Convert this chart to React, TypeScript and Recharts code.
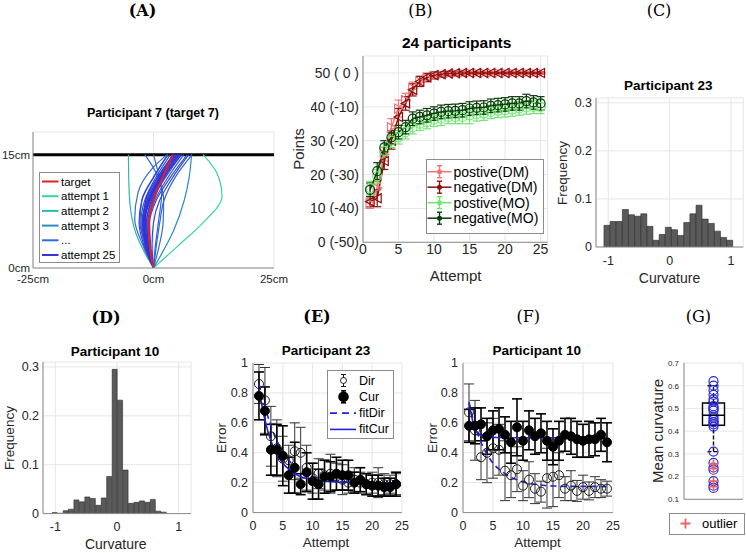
import React from 'react';
import {
  ComposedChart, BarChart, Line, Bar, Scatter, XAxis, YAxis,
  CartesianGrid, ErrorBar, ReferenceLine,
} from 'recharts';

const FONT = '"Liberation Sans", Arial, Helvetica, sans-serif';
const SERIF = '"DejaVu Serif", "Liberation Serif", serif';
const INK = '#262626';
const EDGE = '#8c8c8c';
const GRIDC = '#e6e6e6';

// ---------------- Panel A ----------------
const aXTicks = [-25, 0, 25];
const aYTicks = [0, 15];
const aXDomain = [-25, 25];
const aYDomain = [0, 18];
const aTargetDistance = 15;
const aTarget: number[][] = [[0, 0], [-0.8, 3], [-1.0, 6], [0, 9], [1.9, 12], [4, 15]];
const aAttempts: number[][][] = [
  [[0, 0], [5.2, 3], [10.3, 6], [14.2, 9.5], [13.2, 12.5], [10.3, 15]],
  [[0, 0], [-1.8, 2], [-3.6, 4.5], [-4.7, 7.5], [-5.1, 11], [-5.2, 15]],
  [[0, 0], [1.8, 2], [4.2, 5], [6.4, 9], [7.4, 12], [7.9, 15]],
  [[0, 0], [1.2, 3], [2.0, 6], [2.1, 9], [1.2, 12], [0, 15]],
  [[0, 0], [-2.2, 3], [-3.9, 6.5], [-3.2, 10], [-0.5, 13], [2.8, 15]],
  [[0, 0], [0.4, 3], [1.0, 6], [1.7, 10], [0.2, 13], [-1.8, 15]],
  [[0, 0], [-1.5, 3], [-2.8, 6], [-2.4, 9], [0, 12], [3, 15]],
  [[0, 0], [0.6, 3], [1.3, 6], [2.2, 9], [4.5, 12], [8, 15]],
  [[0, 0], [-1.2, 3], [-1.8, 6], [-0.8, 9], [1.8, 12], [5, 15]],
  [[0, 0], [-0.8, 3], [-1.0, 6], [0.3, 9], [3, 12], [6.3, 15]],
  [[0, 0], [-1.5, 3], [-2.3, 6], [-1.5, 9], [1, 12], [4, 15]],
  [[0, 0], [-1.0, 3], [-1.5, 6], [-0.2, 9], [2.5, 12], [5.8, 15]],
  [[0, 0], [-1.8, 3], [-2.6, 6], [-1.8, 9], [0.5, 12], [3.5, 15]],
  [[0, 0], [-1.4, 3], [-2.0, 6], [-1.0, 9], [1.5, 12], [4.6, 15]],
  [[0, 0], [-0.6, 3], [-0.8, 6], [0.6, 9], [3.5, 12], [7, 15]],
  [[0, 0], [-1.6, 3], [-2.4, 6], [-1.2, 9], [1.2, 12], [4.3, 15]],
  [[0, 0], [-0.3, 3], [0, 6], [1.3, 9], [4, 12], [7.3, 15]],
  [[0, 0], [-2.0, 3], [-3.0, 6], [-2.4, 9], [0, 12], [3, 15]],
  [[0, 0], [-1.0, 3], [-1.2, 6], [0, 9], [2.2, 12], [5.3, 15]],
  [[0, 0], [-1.3, 3], [-1.9, 6], [-0.6, 9], [2, 12], [5.5, 15]],
  [[0, 0], [-1.7, 3], [-2.2, 6], [-1.3, 9], [1.3, 12], [4.8, 15]],
  [[0, 0], [-0.9, 3], [-1.4, 6], [-0.4, 9], [2.2, 12], [5.8, 15]],
  [[0, 0], [-1.2, 3], [-2.1, 6], [-1.6, 9], [0.8, 12], [4.2, 15]],
  [[0, 0], [-1.5, 3], [-2.0, 6], [-0.9, 9], [1.7, 12], [5.1, 15]],
  [[0, 0], [-1.1, 3], [-1.7, 6], [-0.9, 9], [1.4, 12], [4.5, 15]],
];
const aLegendLabels = ['target', 'attempt 1', 'attempt 2', 'attempt 3', '...', 'attempt 25'];
const aLegendColors = ['#e0202a', '#33d6a6', '#2cb9ab', '#2a8cc4', '#2f6ed6', '#3535d8'];

// ---------------- Panel B ----------------
const bXTicks = [0, 5, 10, 15, 20, 25];
const bYTicks = [0, 10, 20, 30, 40, 50];
const bYTickLabels = ['0 (-50)', '10 (-40)', '20 (-30)', '30 (-20)', '40 (-10)', '50 ( 0 )'];
const bAttempts = [1, 2, 3, 4, 5, 6, 7, 8, 9, 10, 11, 12, 13, 14, 15, 16, 17, 18, 19, 20, 21, 22, 23, 24, 25];
const bPosDM = [11.5, 16, 26, 34, 39.5, 42, 45.5, 47.5, 48.5, 49.2, 49.5, 49.7, 49.8, 49.9, 50, 50, 50, 50, 50, 50, 50, 50, 50, 50, 50];
const bPosDMErr = [1.5, 2, 2, 2.5, 2.5, 2, 1.8, 1.5, 1.2, 1, 0.8, 0.6, 0.5, 0.5, 0.4, 0.4, 0.3, 0.3, 0.3, 0.3, 0.3, 0.3, 0.3, 0.3, 0.3];
const bNegDM = [12, 13, 24, 30, 37, 41, 45, 47.5, 48.7, 49.3, 49.6, 49.8, 49.9, 50, 50, 50, 50, 50, 50, 50, 50, 50, 50, 50, 50];
const bNegDMErr = [1.5, 2.5, 2.5, 2.5, 2.5, 2, 1.8, 1.5, 1.2, 1, 0.8, 0.6, 0.5, 0.5, 0.4, 0.4, 0.3, 0.3, 0.3, 0.3, 0.3, 0.3, 0.3, 0.3, 0.3];
const bPosMO = [16, 19.5, 27, 30, 31, 32.5, 34, 35, 35.5, 36.2, 36.5, 37, 37, 37, 37.5, 37.8, 38, 38.5, 38.8, 39, 39.2, 39.5, 39.8, 40, 40];
const bPosMOErr = [2, 2, 2, 2, 2, 2, 2, 2, 2, 2, 2, 2, 2, 2, 2.5, 2, 2, 2, 2, 2, 2, 2, 2, 2, 2];
const bNegMO = [15.5, 21, 28, 31, 32.5, 34, 36.5, 37, 37.5, 38, 38.5, 38.7, 38.8, 39, 39.5, 39.7, 39.8, 40.3, 40.5, 40.7, 41, 41, 41.7, 41.3, 41];
const bNegMOErr = [2, 2.5, 2, 2, 2, 2, 2, 2, 2, 2, 2, 2, 2, 2, 2, 2, 2, 2, 2, 2, 2, 2, 2, 2, 2];
const bLegendLabels = ['postive(DM)', 'negative(DM)', 'postive(MO)', 'negative(MO)'];
const bColors = ['#f07575', '#8b1111', '#6fe86f', '#0a3d0a'];

// ---------------- Panels C / D ----------------
const histXTicks = [-1, 0, 1];
const histYTicks = [0, 0.1, 0.2, 0.3];
const cCenters = [-1.02, -0.92, -0.82, -0.72, -0.62, -0.52, -0.42, -0.32, -0.22, -0.12, -0.02, 0.08, 0.18, 0.28, 0.38, 0.48, 0.58, 0.68, 0.78, 0.88, 0.98];
const cFreq = [0.045, 0.053, 0.053, 0.078, 0.067, 0.064, 0.069, 0.043, 0.014, 0.026, 0.041, 0.036, 0.024, 0.051, 0.069, 0.087, 0.058, 0.049, 0.033, 0.020, 0.014];
const dCenters = [-1.01, -0.92, -0.83, -0.745, -0.656, -0.567, -0.479, -0.39, -0.302, -0.213, -0.125, -0.036, 0.052, 0.141, 0.229, 0.318, 0.406, 0.495, 0.583, 0.672, 0.76];
const dFreq = [0.002, 0.0007, 0.006, 0.009, 0.028, 0.024, 0.034, 0.031, 0.017, 0.032, 0.076, 0.295, 0.232, 0.089, 0.021, 0.023, 0.026, 0.023, 0.029, 0.005, 0.003];

// ---------------- Panels E / F ----------------
const errXTicks = [0, 5, 10, 15, 20, 25];
const errYTicks = [0, 0.2, 0.4, 0.6, 0.8, 1];
const attempts24 = [1, 2, 3, 4, 5, 6, 7, 8, 9, 10, 11, 12, 13, 14, 15, 16, 17, 18, 19, 20, 21, 22, 23, 24];
const eDir = [0.86, 0.75, 0.51, 0.43, 0.36, 0.35, 0.41, 0.40, 0.30, 0.23, 0.26, 0.25, 0.26, 0.24, 0.22, 0.20, 0.22, 0.20, 0.19, 0.20, 0.20, 0.19, 0.19, 0.19];
const eDirErr = [0.13, 0.22, 0.2, 0.19, 0.15, 0.1, 0.19, 0.17, 0.15, 0.1, 0.1, 0.1, 0.13, 0.09, 0.1, 0.07, 0.08, 0.07, 0.07, 0.07, 0.1, 0.07, 0.06, 0.07];
const eCur = [0.78, 0.68, 0.42, 0.42, 0.38, 0.25, 0.30, 0.19, 0.27, 0.21, 0.19, 0.24, 0.24, 0.26, 0.25, 0.25, 0.20, 0.22, 0.19, 0.18, 0.18, 0.17, 0.17, 0.19];
const eCurErr = [0.16, 0.16, 0.17, 0.17, 0.2, 0.12, 0.17, 0.07, 0.13, 0.12, 0.1, 0.11, 0.1, 0.11, 0.1, 0.1, 0.07, 0.08, 0.07, 0.07, 0.07, 0.06, 0.06, 0.08];
const eFitDir = [0.86, 0.71, 0.58, 0.48, 0.41, 0.35, 0.31, 0.28, 0.255, 0.24, 0.228, 0.22, 0.214, 0.21, 0.207, 0.205, 0.203, 0.202, 0.201, 0.2, 0.2, 0.2, 0.2, 0.2];
const eFitCur = [0.82, 0.62, 0.48, 0.39, 0.33, 0.29, 0.26, 0.24, 0.228, 0.22, 0.214, 0.21, 0.207, 0.205, 0.203, 0.202, 0.201, 0.2, 0.2, 0.2, 0.2, 0.2, 0.2, 0.2];
const fDir = [0.67, 0.55, 0.37, 0.40, 0.43, 0.42, 0.28, 0.25, 0.29, 0.18, 0.22, 0.16, 0.14, 0.23, 0.24, 0.25, 0.16, 0.18, 0.145, 0.17, 0.145, 0.17, 0.16, 0.16];
const fDirErr = [0.19, 0.2, 0.15, 0.2, 0.2, 0.17, 0.2, 0.15, 0.15, 0.1, 0.12, 0.1, 0.07, 0.2, 0.2, 0.15, 0.08, 0.1, 0.07, 0.08, 0.06, 0.07, 0.06, 0.05];
const fCur = [0.58, 0.58, 0.59, 0.51, 0.55, 0.56, 0.52, 0.47, 0.57, 0.48, 0.55, 0.51, 0.53, 0.48, 0.44, 0.48, 0.52, 0.51, 0.49, 0.48, 0.49, 0.49, 0.52, 0.47];
const fCurErr = [0.11, 0.12, 0.11, 0.12, 0.13, 0.14, 0.12, 0.14, 0.19, 0.13, 0.13, 0.12, 0.13, 0.13, 0.12, 0.13, 0.11, 0.12, 0.12, 0.11, 0.12, 0.11, 0.11, 0.13];
const fFitDir = [0.74, 0.58, 0.47, 0.39, 0.33, 0.29, 0.26, 0.235, 0.22, 0.205, 0.195, 0.19, 0.185, 0.18, 0.178, 0.176, 0.175, 0.175, 0.175, 0.175, 0.175, 0.175, 0.175, 0.175];
const fFitCur = [0.73, 0.56, 0.515, 0.505, 0.503, 0.502, 0.501, 0.5, 0.5, 0.5, 0.5, 0.5, 0.5, 0.5, 0.5, 0.5, 0.5, 0.5, 0.5, 0.5, 0.5, 0.5, 0.5, 0.5];
const errLegendLabels = ['Dir', 'Cur', 'fitDir', 'fitCur'];

// ---------------- Panel G ----------------
const gYTicks = [0.1, 0.2, 0.3, 0.4, 0.5, 0.6, 0.7];
const gPos = 1;
const gQ1 = 0.426;
const gMedian = 0.47;
const gQ3 = 0.524;
const gWhiskerLow = 0.31;
const gWhiskerHigh = 0.6;
const gMeans = [0.62, 0.60, 0.58, 0.56, 0.54, 0.53, 0.51, 0.50, 0.50, 0.49, 0.47, 0.46, 0.45, 0.44, 0.44, 0.43, 0.42, 0.31, 0.26, 0.24, 0.23, 0.18, 0.16, 0.15];
const gOutliers = [0.255, 0.235, 0.18, 0.155];

// ---------------- helpers ----------------
const BLUE = '#2222d8';
const pts = (pairs: number[][]) => pairs.map(([x, y]) => ({ x, y }));
const series = (xs: number[], ys: number[], es?: number[]) => xs.map((x, i) => ({ x, y: ys[i], e: es ? es[i] : 0 }));

function attemptColor(i: number) {
  const fixed = [[51, 214, 166], [44, 185, 171], [42, 140, 196]];
  if (i < 3) return `rgb(${fixed[i].join(',')})`;
  const a = [47, 110, 214], b = [50, 45, 216];
  const t = (i - 3) / 21;
  const c = a.map((v, k) => Math.round(v + (b[k] - v) * t));
  return `rgb(${c.join(',')})`;
}

type Box = { L: number; T: number; R: number; B: number };
function geom(b: Box, padL: number, padT: number, padR: number, padB: number) {
  return {
    left: b.L - padL,
    top: b.T - padT,
    width: b.R - b.L + padL + padR,
    height: b.B - b.T + padT + padB,
    margin: { top: padT, right: padR, bottom: 0, left: 0 },
    yw: padL,
    xh: padB,
  };
}

const tickStyle = (size: number) => ({ fill: INK, fontSize: size, fontFamily: FONT });

const boxAxes = (xd: number[], yd: number[]) => [
  <XAxis key="bt" xAxisId="top" orientation="top" type="number" domain={xd} allowDataOverflow tick={false} tickLine={false} height={0} axisLine={{ stroke: EDGE }} />,
  <YAxis key="br" yAxisId="right" orientation="right" type="number" domain={yd} allowDataOverflow tick={false} tickLine={false} width={0} axisLine={{ stroke: EDGE }} />,
];

function Txt(props: { x: number; y: number; size: number; bold?: boolean; rot?: boolean; family?: string; color?: string; children: React.ReactNode }) {
  const { x, y, size, bold, rot, family, color, children } = props;
  return (
    <div style={{
      position: 'absolute', left: x, top: y,
      transform: `translate(-50%,-50%)${rot ? ' rotate(-90deg)' : ''}`,
      fontSize: size, fontWeight: bold ? 700 : 400, fontFamily: family ?? FONT,
      color: color ?? '#000', whiteSpace: 'pre', lineHeight: 1,
    }}>{children}</div>
  );
}

// B y-axis tick: a single unwrapped label
const BTick = (p: any) => {
  const v = p.payload?.value;
  const idx = bYTicks.indexOf(v);
  return (
    <text x={p.x} y={p.y} textAnchor="end" dominantBaseline="central" fontSize={14} fontFamily={FONT} fill={INK}
      style={{ whiteSpace: 'pre' }}>
      {idx >= 0 ? bYTickLabels[idx] : String(v)}
    </text>
  );
};

// marker shapes
const triRight = (color: string) => (p: any) => (
  <path key={`r${p.index}`} d={`M${p.cx + 4.5},${p.cy} L${p.cx - 4},${p.cy - 4.5} L${p.cx - 4},${p.cy + 4.5} Z`} fill="none" stroke={color} strokeWidth={1.2} />
);
const triLeft = (color: string) => (p: any) => (
  <path key={`l${p.index}`} d={`M${p.cx - 4.5},${p.cy} L${p.cx + 4},${p.cy - 4.5} L${p.cx + 4},${p.cy + 4.5} Z`} fill="none" stroke={color} strokeWidth={1.2} />
);
const ring = (color: string, r: number, w = 1.2) => (p: any) => (
  <circle key={`c${p.index}`} cx={p.cx} cy={p.cy} r={r} fill="none" stroke={color} strokeWidth={w} />
);
const disc = (color: string, r: number) => (p: any) => (
  <circle cx={p.cx} cy={p.cy} r={r} fill={color} stroke={color} />
);
const plus = (color: string, s: number) => (p: any) => (
  <path d={`M${p.cx - s},${p.cy} H${p.cx + s} M${p.cx},${p.cy - s} V${p.cy + s}`} stroke={color} strokeWidth={1.6} fill="none" />
);
const hbar = (color: string, half: number) => (p: any) => (
  <path d={`M${p.cx - half},${p.cy} H${p.cx + half}`} stroke={color} strokeWidth={1.4} fill="none" />
);

// ---------------- panels ----------------
function PanelA() {
  const g = geom({ L: 33, T: 132, R: 274, B: 268 }, 33, 4, 16, 22);
  return (
    <div style={{ position: 'absolute', left: g.left, top: g.top }}>
      <ComposedChart width={g.width} height={g.height} margin={g.margin}>
        <CartesianGrid stroke={GRIDC} />
        <XAxis type="number" dataKey="x" domain={aXDomain} allowDataOverflow ticks={aXTicks} interval={0}
          tickFormatter={(v: number) => `${v}cm`} tick={tickStyle(11.5)} tickLine={false} tickSize={0} tickMargin={7}
          height={g.xh} axisLine={{ stroke: EDGE }} />
        <YAxis type="number" dataKey="y" domain={aYDomain} allowDataOverflow ticks={aYTicks} interval={0}
          tickFormatter={(v: number) => `${v}cm`} tick={tickStyle(11.5)} tickLine={false} tickSize={0} tickMargin={3}
          width={g.yw} axisLine={{ stroke: EDGE }} />
        {boxAxes(aXDomain, aYDomain)}
        <ReferenceLine y={aTargetDistance} stroke="#000" strokeWidth={3} />
        {aAttempts.map((tr, i) => (
          <Line key={i} data={pts(tr)} dataKey="y" type="monotoneY" stroke={attemptColor(i)} strokeWidth={1.2}
            dot={false} isAnimationActive={false} />
        ))}
        <Line data={pts(aTarget)} dataKey="y" type="monotoneY" stroke="#e0202a" strokeWidth={2} dot={false} isAnimationActive={false} />
      </ComposedChart>
    </div>
  );
}

function LegendA() {
  return (
    <svg style={{ position: 'absolute', left: 39, top: 172 }} width={81} height={91}>
      <rect x={0.5} y={0.5} width={80} height={90} fill="#fff" stroke={EDGE} />
      {aLegendLabels.map((lab, i) => {
        const y = 9.5 + i * 14.7;
        return (
          <g key={lab}>
            <line x1={3} x2={19.5} y1={y} y2={y} stroke={aLegendColors[i]} strokeWidth={2} />
            <text x={22} y={y} dominantBaseline="central" fontSize={11.5} fontFamily={FONT} fill="#000">{lab}</text>
          </g>
        );
      })}
    </svg>
  );
}

function PanelB() {
  const g = geom({ L: 363.3, T: 56, R: 548, B: 242.3 }, 52, 8, 6, 20);
  const xd = [0, 26], yd = [0, 55];
  const defs = [
    { d: series(bAttempts, bPosDM, bPosDMErr), c: bColors[0], dot: triRight(bColors[0]) },
    { d: series(bAttempts, bNegDM, bNegDMErr), c: bColors[1], dot: triLeft(bColors[1]) },
    { d: series(bAttempts, bPosMO, bPosMOErr), c: bColors[2], dot: ring(bColors[2], 4.5) },
    { d: series(bAttempts, bNegMO, bNegMOErr), c: bColors[3], dot: ring(bColors[3], 4.5) },
  ];
  return (
    <div style={{ position: 'absolute', left: g.left, top: g.top }}>
      <ComposedChart width={g.width} height={g.height} margin={g.margin}>
        <CartesianGrid stroke={GRIDC} />
        <XAxis type="number" dataKey="x" domain={xd} allowDataOverflow ticks={bXTicks} interval={0}
          tick={tickStyle(14)} tickLine={false} tickSize={0} tickMargin={2} height={g.xh} axisLine={{ stroke: EDGE }} />
        <YAxis type="number" dataKey="y" domain={yd} allowDataOverflow ticks={bYTicks} interval={0}
          tick={BTick} tickLine={false} tickSize={0} tickMargin={4} width={g.yw} axisLine={{ stroke: EDGE }} />
        {boxAxes(xd, yd)}
        {defs.map((s, i) => (
          <Line key={i} data={s.d} dataKey="y" stroke={s.c} strokeWidth={1.5} dot={s.dot} isAnimationActive={false}>
            <ErrorBar dataKey="e" direction="y" width={4} stroke={s.c} strokeWidth={1.2} />
          </Line>
        ))}
      </ComposedChart>
    </div>
  );
}

function LegendB() {
  return (
    <svg style={{ position: 'absolute', left: 426, top: 159 }} width={118} height={75}>
      <rect x={0.5} y={0.5} width={117} height={74} fill="#fff" stroke={EDGE} />
      {bLegendLabels.map((lab, i) => {
        const y = 12.7 + i * 15.5;
        const c = bColors[i];
        return (
          <g key={lab}>
            <line x1={1.5} x2={25.5} y1={y} y2={y} stroke={c} strokeWidth={1.5} />
            <line x1={13.5} x2={13.5} y1={y - 6} y2={y + 6} stroke={c} strokeWidth={1.4} />
            <line x1={11} x2={16} y1={y - 6} y2={y - 6} stroke={c} strokeWidth={1.4} />
            <line x1={11} x2={16} y1={y + 6} y2={y + 6} stroke={c} strokeWidth={1.4} />
            <circle cx={13.5} cy={y} r={2.5} fill={c} />
            <text x={27.5} y={y} dominantBaseline="central" fontSize={14} fontFamily={FONT} fill="#000">{lab}</text>
          </g>
        );
      })}
    </svg>
  );
}

function Hist(props: { box: Box; centers: number[]; freq: number[] }) {
  const g = geom(props.box, 30, 8, 6, 22);
  const xd = [-1.2, 1.2], yd = [0, 0.31];
  const data = props.centers.map((x, i) => ({ x, y: props.freq[i] }));
  return (
    <div style={{ position: 'absolute', left: g.left, top: g.top }}>
      <BarChart width={g.width} height={g.height} margin={g.margin} data={data} barCategoryGap={0} barGap={0}>
        <CartesianGrid stroke={GRIDC} />
        <XAxis type="number" dataKey="x" domain={xd} allowDataOverflow ticks={histXTicks} interval={0}
          tick={tickStyle(12.5)} tickLine={false} tickSize={0} tickMargin={9} height={g.xh} axisLine={{ stroke: EDGE }} />
        <YAxis type="number" domain={yd} allowDataOverflow ticks={histYTicks} interval={0}
          tick={tickStyle(12.5)} tickLine={false} tickSize={0} tickMargin={4} width={g.yw} axisLine={{ stroke: EDGE }} />
        {boxAxes(xd, yd)}
        <Bar dataKey="y" fill="#5a5a5a" stroke="#2a2a2a" strokeWidth={0.6} isAnimationActive={false} />
      </BarChart>
    </div>
  );
}

function ErrPanel(props: { box: Box; dir: number[]; dirErr: number[]; cur: number[]; curErr: number[]; fitDir: number[]; fitCur: number[] }) {
  const g = geom(props.box, 30, 8, 8, 22);
  const xd = [0, 25], yd = [0, 1];
  return (
    <div style={{ position: 'absolute', left: g.left, top: g.top }}>
      <ComposedChart width={g.width} height={g.height} margin={g.margin}>
        <CartesianGrid stroke={GRIDC} />
        <XAxis type="number" dataKey="x" domain={xd} allowDataOverflow ticks={errXTicks} interval={0}
          tick={tickStyle(12.5)} tickLine={false} tickSize={0} tickMargin={9} height={g.xh} axisLine={{ stroke: EDGE }} />
        <YAxis type="number" dataKey="y" domain={yd} allowDataOverflow ticks={errYTicks} interval={0}
          tick={tickStyle(12.5)} tickLine={false} tickSize={0} tickMargin={5} width={g.yw} axisLine={{ stroke: EDGE }} />
        {boxAxes(xd, yd)}
        <Scatter data={series(attempts24, props.dir, props.dirErr)} dataKey="y" shape={ring('#1a1a1a', 4.5, 1)} isAnimationActive={false}>
          <ErrorBar dataKey="e" direction="y" width={5} stroke="#333" strokeWidth={1} />
        </Scatter>
        <Scatter data={series(attempts24, props.cur, props.curErr)} dataKey="y" shape={disc('#000', 4.5)} isAnimationActive={false}>
          <ErrorBar dataKey="e" direction="y" width={5} stroke="#000" strokeWidth={1.6} />
        </Scatter>
        <Line data={series(attempts24, props.fitDir)} dataKey="y" type="monotone" stroke={BLUE} strokeWidth={1.6}
          strokeDasharray="6 4" dot={false} isAnimationActive={false} />
        <Line data={series(attempts24, props.fitCur)} dataKey="y" type="monotone" stroke={BLUE} strokeWidth={1.6}
          dot={false} isAnimationActive={false} />
      </ComposedChart>
    </div>
  );
}

function LegendE() {
  return (
    <svg style={{ position: 'absolute', left: 327, top: 370 }} width={67} height={69}>
      <rect x={0.5} y={0.5} width={66} height={68} fill="#fff" stroke={EDGE} />
      {errLegendLabels.map((lab, i) => {
        const y = 10.5 + i * 16.3;
        let icon: React.ReactNode = null;
        if (i === 0) icon = (
          <g stroke="#1a1a1a" fill="none" strokeWidth={1}>
            <line x1={16.5} x2={16.5} y1={y - 6} y2={y + 6} />
            <line x1={14} x2={19} y1={y - 6} y2={y - 6} />
            <line x1={14} x2={19} y1={y + 6} y2={y + 6} />
            <circle cx={16.5} cy={y} r={3} fill="#fff" />
          </g>
        );
        else if (i === 1) icon = (
          <g stroke="#000" strokeWidth={1.6}>
            <line x1={16.5} x2={16.5} y1={y - 6} y2={y + 6} />
            <line x1={14} x2={19} y1={y - 6} y2={y - 6} />
            <line x1={14} x2={19} y1={y + 6} y2={y + 6} />
            <circle cx={16.5} cy={y} r={4.5} fill="#000" />
          </g>
        );
        else icon = <line x1={3} x2={29} y1={y} y2={y} stroke={BLUE} strokeWidth={1.6} strokeDasharray={i === 2 ? '7 5' : undefined} />;
        return (
          <g key={lab}>
            {icon}
            <text x={32} y={y} dominantBaseline="central" fontSize={12.5} fontFamily={FONT} fill="#000">{lab}</text>
          </g>
        );
      })}
    </svg>
  );
}

function PanelG() {
  const g = geom({ L: 684, T: 362.7, R: 743, B: 499 }, 22, 8, 2, 8);
  const xd = [0, 2], yd = [0.1, 0.7];
  const boxData = [{ x: gPos, box: [gQ1, gQ3] }];
  const upper = [{ x: gPos, y: gQ3, e: [0, gWhiskerHigh - gQ3] }];
  const lower = [{ x: gPos, y: gQ1, e: [gQ1 - gWhiskerLow, 0] }];
  const med = [{ x: gPos, y: gMedian }];
  const means = gMeans.map((y) => ({ x: gPos, y }));
  const outs = gOutliers.map((y) => ({ x: gPos, y }));
  return (
    <div style={{ position: 'absolute', left: g.left, top: g.top }}>
      <ComposedChart width={g.width} height={g.height} margin={g.margin} data={boxData}>
        <CartesianGrid stroke={GRIDC} />
        <XAxis type="number" dataKey="x" domain={xd} allowDataOverflow ticks={[gPos]} tick={false} tickLine={false}
          height={g.xh} axisLine={{ stroke: EDGE }} />
        <YAxis type="number" dataKey="y" domain={yd} allowDataOverflow ticks={gYTicks} interval={0}
          tick={tickStyle(8)} tickLine={false} tickSize={0} tickMargin={5} width={g.yw} axisLine={{ stroke: EDGE }} />
        {boxAxes(xd, yd)}
        <Scatter data={means} dataKey="y" shape={ring('#2b2bd8', 4.5, 1.2)} isAnimationActive={false} />
        <Bar dataKey="box" barSize={22} fill="none" stroke="#000" strokeWidth={1.4} isAnimationActive={false} />
        <Scatter data={upper} dataKey="y" shape={() => <g />} isAnimationActive={false}>
          <ErrorBar dataKey="e" direction="y" width={6} stroke="#000" strokeWidth={1.4} strokeDasharray="4 2" />
        </Scatter>
        <Scatter data={lower} dataKey="y" shape={() => <g />} isAnimationActive={false}>
          <ErrorBar dataKey="e" direction="y" width={6} stroke="#000" strokeWidth={1.4} strokeDasharray="4 2" />
        </Scatter>
        <Scatter data={med} dataKey="y" shape={hbar('#000', 11)} isAnimationActive={false} />
        <Scatter data={outs} dataKey="y" shape={plus('#f06262', 4.5)} isAnimationActive={false} />
      </ComposedChart>
    </div>
  );
}

function LegendG() {
  return (
    <svg style={{ position: 'absolute', left: 669, top: 513 }} width={76} height={22}>
      <rect x={0.5} y={0.5} width={75} height={21} fill="#fff" stroke={EDGE} />
      <path d="M11.5,10.5 H21.5 M16.5,5.5 V15.5" stroke="#f06262" strokeWidth={1.8} />
      <text x={33} y={10.5} dominantBaseline="central" fontSize={13} fontFamily={FONT} fill="#000">outlier</text>
    </svg>
  );
}

export default function App() {
  return (
    <div style={{ position: 'absolute', left: 0, top: 0, width: 746, height: 553, background: '#fff', overflow: 'hidden', fontFamily: FONT }}>
      {/* panel letters */}
      <Txt x={142.5} y={11} size={16} bold family={SERIF}>(A)</Txt>
      <Txt x={420.3} y={11} size={16} family={SERIF}>(B)</Txt>
      <Txt x={659} y={11} size={16} family={SERIF}>(C)</Txt>
      <Txt x={106} y={318} size={16} bold family={SERIF}>(D)</Txt>
      <Txt x={317} y={317} size={16} bold family={SERIF}>(E)</Txt>
      <Txt x={528.3} y={317} size={16} family={SERIF}>(F)</Txt>
      <Txt x={698.3} y={317} size={16} family={SERIF}>(G)</Txt>

      <PanelA />
      <LegendA />
      <PanelB />
      <LegendB />
      <Hist box={{ L: 596, T: 98.3, R: 743.3, B: 247.3 }} centers={cCenters} freq={cFreq} />
      <Hist box={{ L: 42.7, T: 361.7, R: 190.7, B: 513.3 }} centers={dCenters} freq={dFreq} />
      <ErrPanel box={{ L: 253, T: 362.7, R: 402, B: 512.3 }} dir={eDir} dirErr={eDirErr} cur={eCur} curErr={eCurErr} fitDir={eFitDir} fitCur={eFitCur} />
      <LegendE />
      <ErrPanel box={{ L: 463, T: 362.7, R: 613, B: 512.3 }} dir={fDir} dirErr={fDirErr} cur={fCur} curErr={fCurErr} fitDir={fFitDir} fitCur={fFitCur} />
      <PanelG />
      <LegendG />

      {/* titles */}
      <Txt x={153} y={113} size={12.5} bold>Participant 7 (target 7)</Txt>
      <Txt x={456.7} y={43.3} size={15.5} bold>24 participants</Txt>
      <Txt x={668.3} y={86} size={13.5} bold>Participant 23</Txt>
      <Txt x={115} y={351.7} size={13.5} bold>Participant 10</Txt>
      <Txt x={326} y={351} size={13.5} bold>Participant 23</Txt>
      <Txt x={536.7} y={351} size={13.5} bold>Participant 10</Txt>

      {/* axis labels */}
      <Txt x={298} y={149} size={15} rot color={INK}>Points</Txt>
      <Txt x={455.7} y={275} size={15} color={INK}>Attempt</Txt>
      <Txt x={563.3} y={172.7} size={13.5} rot color={INK}>Frequency</Txt>
      <Txt x={669.5} y={277.7} size={14} color={INK}>Curvature</Txt>
      <Txt x={10} y={437.5} size={13.5} rot color={INK}>Frequency</Txt>
      <Txt x={115.7} y={544} size={14} color={INK}>Curvature</Txt>
      <Txt x={221.7} y={437.5} size={13.5} rot color={INK}>Error</Txt>
      <Txt x={326} y={543.3} size={13.5} color={INK}>Attempt</Txt>
      <Txt x={433.3} y={437.5} size={13.5} rot color={INK}>Error</Txt>
      <Txt x={537.5} y={543.3} size={13.5} color={INK}>Attempt</Txt>
      <Txt x={656.7} y={431} size={15} rot color={INK}>Mean curvature</Txt>
    </div>
  );
}
